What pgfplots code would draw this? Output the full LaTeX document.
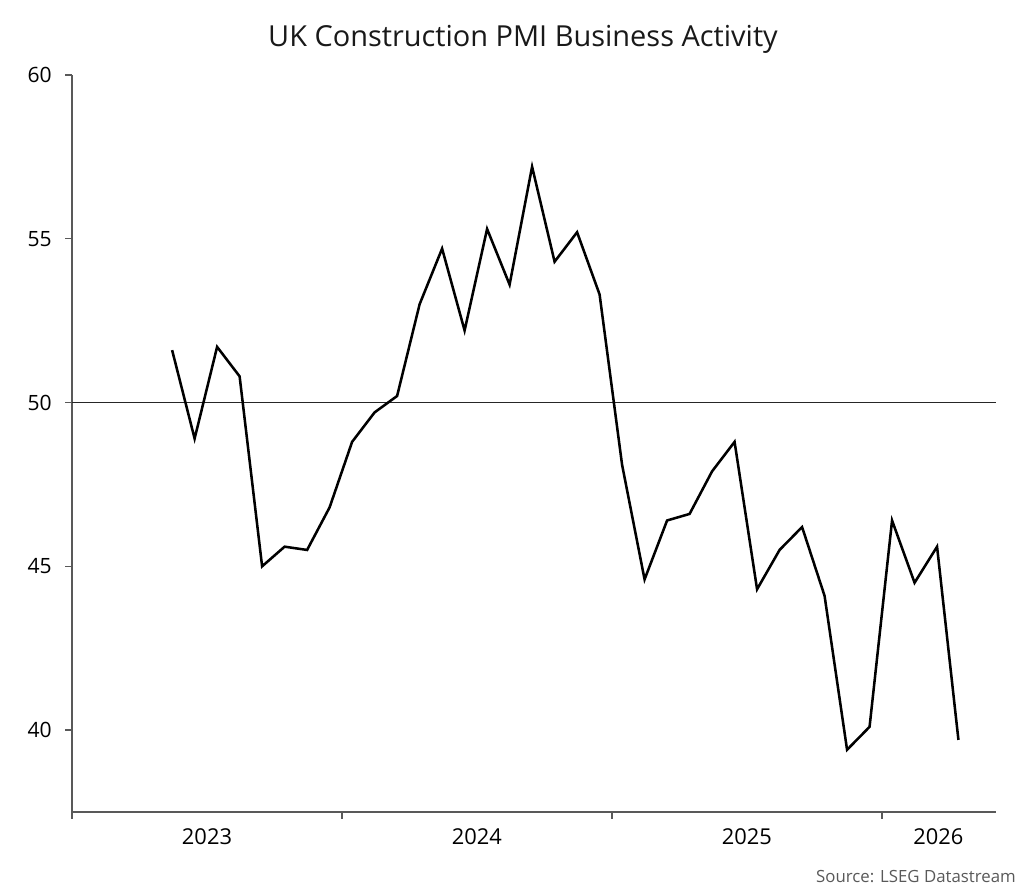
\documentclass[border=0pt]{standalone}
\usepackage{fontspec}
\setmainfont{Open Sans}
\usepackage{pgfplots}
\pgfplotsset{compat=1.18}
% 1 px of the reference = 0.75pt
\begin{document}
\begin{tikzpicture}
\path[use as bounding box] (0,0) rectangle (768pt,667.5pt);
\begin{axis}[
  at={(54pt,58.5pt)}, anchor=south west,
  scale only axis, width=693pt, height=552.75pt,
  xmin=0, xmax=41.07, ymin=37.5, ymax=60,
  axis x line*=bottom, axis y line*=left,
  axis line style={draw=black!65, line width=1pt, -},
  major tick style={draw=black!65, line width=1pt},
  tick align=outside, major tick length=5pt,
  xtick={0,12,24,36}, xticklabels={,,,},
  extra x ticks={6,18,30,38.51},
  extra x tick labels={2023,2024,2025,2026},
  extra x tick style={major tick length=0pt, major tick style={draw=none}},
  ytick={40,45,50,55,60},
  xticklabel style={font=\fontsize{16.4}{18}\selectfont, inner sep=0pt, anchor=north, yshift=-12pt},
  yticklabel style={font=\fontsize{15.8}{18}\selectfont, inner sep=0pt, anchor=east, xshift=-10pt},
  /pgf/number format/assume math mode=true,
  clip=false,
]
\addplot[black!85, line width=1pt] coordinates {(0,50) (41.07,50)};
\addplot[black, line width=1.9pt, line join=miter] coordinates {
(4.45,51.6) (5.45,48.9) (6.45,51.7) (7.45,50.8) (8.45,45.0) (9.45,45.6)
(10.45,45.5) (11.45,46.8) (12.45,48.8) (13.45,49.7) (14.45,50.2) (15.45,53.0)
(16.45,54.7) (17.45,52.2) (18.45,55.3) (19.45,53.6) (20.45,57.2) (21.45,54.3)
(22.45,55.2) (23.45,53.3) (24.45,48.1) (25.45,44.6) (26.45,46.4) (27.45,46.6)
(28.45,47.9) (29.45,48.8) (30.45,44.3) (31.45,45.5) (32.45,46.2) (33.45,44.1)
(34.45,39.4) (35.45,40.1) (36.45,46.4) (37.45,44.5) (38.45,45.6) (39.4,39.7)
};
\end{axis}
\node[anchor=base, font=\fontsize{21.7}{24}\selectfont, text=black!90] at (392.25pt,632.5pt) {UK Construction PMI Business Activity};
\node[anchor=base east, inner sep=0pt, font=\fontsize{12.6}{14}\selectfont, text=black!65] at (762pt,5.5pt) {Source: LSEG Datastream};
\end{tikzpicture}
\end{document}
